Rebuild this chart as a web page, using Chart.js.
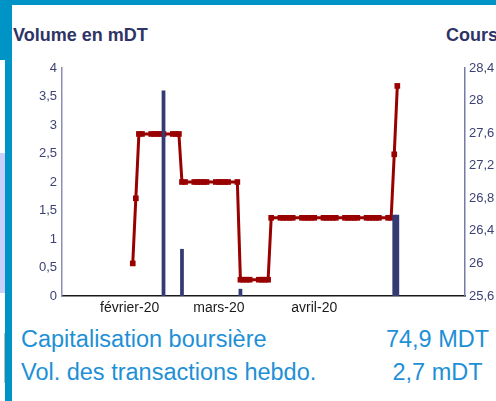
<!DOCTYPE html>
<html lang="fr">
<head>
<meta charset="utf-8">
<script src="https://cdn.jsdelivr.net/npm/chart.js@4.4.1/dist/chart.umd.min.js"></script>
<style>
  html, body { margin: 0; padding: 0; background: #fff; }
  body { width: 496px; height: 401px; overflow: hidden; position: relative; font-family: "Liberation Sans", Arial, sans-serif; }
  .frame-top { position: absolute; left: 0; top: 0; width: 496px; height: 5px; background: #0093c6; }
  .frame-corner { position: absolute; left: 0; top: 0; width: 12px; height: 60px; background: #0093c6; }
  .frame-left { position: absolute; left: 5px; top: 0; width: 7px; height: 401px; background: #0093c6; }
  .side-band { position: absolute; left: 0; top: 153px; width: 5px; height: 140px; background: #c9d1fa; }
  .side-box { position: absolute; left: 0; top: 333px; width: 4px; height: 50px; border-right: 1px solid #bdbdbd; }
  #chart-wrap { position: absolute; left: 0; top: 0; }
  .title { position: absolute; top: 26px; font-size: 18px; line-height: 18px; font-weight: bold; color: #2e3466; white-space: nowrap; }
  .info { position: absolute; font-size: 23.5px; line-height: 23.5px; color: #1e90d6; white-space: nowrap; }
</style>
</head>
<body>
<div class="frame-top"></div>
<div class="frame-corner"></div>
<div class="frame-left"></div>
<div class="side-band"></div>
<div class="side-box"></div>

<div class="title" style="left:13px">Volume en mDT</div>
<div class="title" style="left:446px">Cours en DT</div>

<div id="chart-wrap"><canvas id="chart" width="540" height="320"></canvas></div>

<div class="info" style="left:21px;top:328px">Capitalisation boursière</div>
<div class="info" style="left:380px;top:328px;width:115px;text-align:center">74,9 MDT</div>
<div class="info" style="left:21px;top:361px">Vol. des transactions hebdo.</div>
<div class="info" style="left:380px;top:361px;width:115px;text-align:center">2,7 mDT</div>

<script>
// jours (numérotés depuis le 1er janvier 2020) des séances
const priceDays = [
  32, 33, 34, 35,
  38, 39, 40, 41, 42,
  45, 46, 47, 48, 49,
  52, 53, 54, 55, 56,
  59, 60, 61, 62, 63,
  66, 67, 68, 69, 70,
  73, 74, 75, 76, 77,
  80, 81, 82, 83, 84,
  87, 88, 89, 90, 91,
  94, 95, 96, 97, 98,
  101, 102, 103, 104, 105,
  108, 109, 110, 111, 112,
  115, 116, 117, 118
];
// cours de clôture (DT)
const priceValues = [
  26.0, 26.8, 27.59, 27.59,
  27.59, 27.59, 27.59, 27.59, 27.59,
  27.59, 27.59, 27.59, 27.0, 27.0,
  27.0, 27.0, 27.0, 27.0, 27.0,
  27.0, 27.0, 27.0, 27.0, 27.0,
  27.0, 25.8, 25.8, 25.8, 25.8,
  25.8, 25.8, 25.8, 25.8, 26.56,
  26.56, 26.56, 26.56, 26.56, 26.56,
  26.56, 26.56, 26.56, 26.56, 26.56,
  26.56, 26.56, 26.56, 26.56, 26.56,
  26.56, 26.56, 26.56, 26.56, 26.56,
  26.56, 26.56, 26.56, 26.56, 26.56,
  26.56, 26.56, 27.34, 28.18
];
// volumes échangés (mDT)
const volumeDays = [42, 48, 67, 117, 118];
const volumeValues = [3.6, 0.82, 0.12, 1.42, 1.42];

const monthTicks = [31, 60, 91];
const monthLabels = ["février-20", "mars-20", "avril-20"];
const volTickLabels = ["0", "0,5", "1", "1,5", "2", "2,5", "3", "3,5", "4"];
const priceTickLabels = ["25,6", "26", "26,4", "26,8", "27,2", "27,6", "28", "28,4"];

const tickFont = { family: "'Liberation Sans', Arial, sans-serif", size: 13 };

const ctx = document.getElementById("chart");
new Chart(ctx, {
  data: {
    datasets: [
      {
        type: "bar",
        label: "Volume",
        data: volumeDays.map((d, i) => ({ x: d, y: volumeValues[i] })),
        backgroundColor: "#343b73",
        barThickness: 3.1,
        yAxisID: "yVol",
        order: 0
      },
      {
        type: "line",
        label: "Cours",
        data: priceDays.map((d, i) => ({ x: d, y: priceValues[i] })),
        borderColor: "#990000",
        backgroundColor: "#990000",
        borderWidth: 3,
        pointStyle: "rect",
        pointRadius: 4,
        pointBorderWidth: 0,
        tension: 0,
        yAxisID: "yPrice",
        order: 1
      }
    ]
  },
  options: {
    responsive: false,
    animation: false,
    layout: { padding: { top: 68, left: 0, right: 0, bottom: 0 } },
    plugins: { legend: { display: false }, tooltip: { enabled: false } },
    scales: {
      x: {
        type: "linear",
        min: 9,
        max: 140,
        offset: false,
        grid: { display: false, drawTicks: false },
        border: { display: true, color: "#1a1a1a", width: 1.5 },
        afterBuildTicks: (scale) => { scale.ticks = monthTicks.map(v => ({ value: v })); },
        afterFit: (scale) => { scale.height = 24; },
        ticks: {
          autoSkip: false,
          maxRotation: 0,
          padding: 4,
          color: "#1a1a1a",
          font: { family: "'Liberation Sans', Arial, sans-serif", size: 14 },
          callback: (v) => monthLabels[monthTicks.indexOf(v)]
        }
      },
      yVol: {
        position: "left",
        min: 0,
        max: 4,
        grid: { display: false, drawTicks: false },
        border: { display: true, color: "#8c8fb3", width: 1.5 },
        afterFit: (scale) => { scale.width = 62; },
        ticks: {
          stepSize: 0.5,
          padding: 5,
          color: "#3d4275",
          font: tickFont,
          callback: (v, i) => volTickLabels[i]
        }
      },
      yPrice: {
        position: "right",
        min: 25.6,
        max: 28.4,
        grid: { display: false, drawTicks: false },
        border: { display: true, color: "#767aa6", width: 1.5 },
        afterFit: (scale) => { scale.width = 75; },
        ticks: {
          stepSize: 0.4,
          padding: 4,
          color: "#3d4275",
          font: tickFont,
          callback: (v, i) => priceTickLabels[i]
        }
      }
    }
  }
});
</script>
</body>
</html>
